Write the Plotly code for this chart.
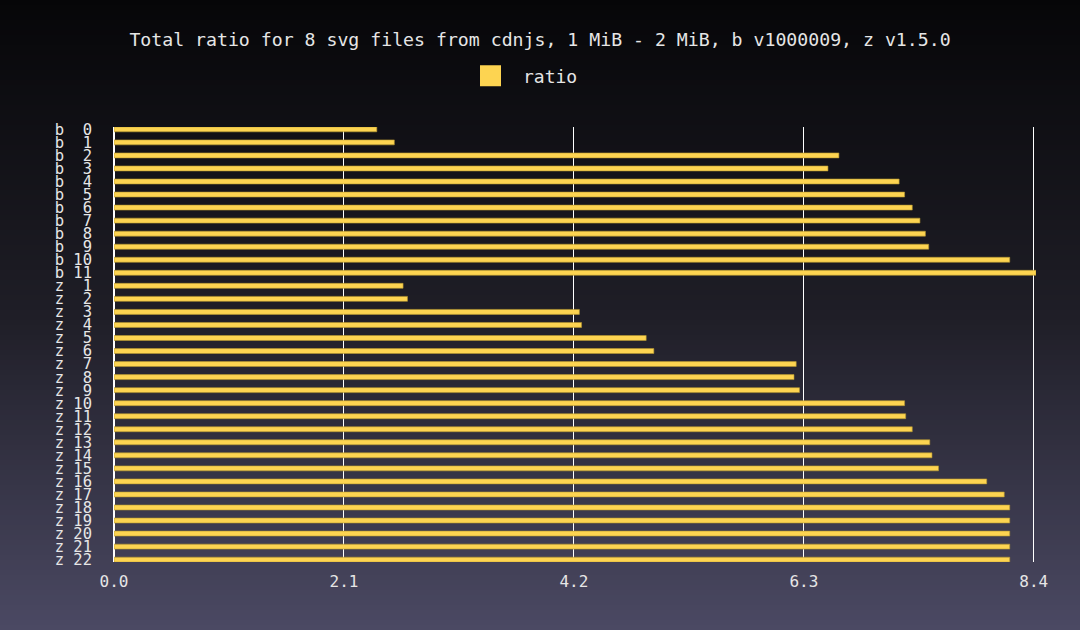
import plotly.graph_objects as go

# ---- data ----
categories = (["b %2d" % i for i in range(0, 12)] +
              ["z %2d" % i for i in range(1, 23)])
b_ratios = [2.40, 2.56, 6.62, 6.52, 7.17, 7.22, 7.29, 7.36, 7.41, 7.44, 8.18, 8.42]
z_ratios = [2.64, 2.68, 4.25, 4.27, 4.86, 4.93, 6.23, 6.21, 6.26, 7.22, 7.23,
            7.29, 7.45, 7.47, 7.53, 7.97, 8.13, 8.18, 8.18, 8.18, 8.18, 8.18]
ratios = b_ratios + z_ratios
x_ticks = [0.0, 2.1, 4.2, 6.3, 8.4]
x_tick_labels = ["0.0", "2.1", "4.2", "6.3", "8.4"]

TITLE = "Total ratio for 8 svg files from cdnjs, 1 MiB - 2 MiB, b v1000009, z v1.5.0"
FONT = "DejaVu Sans Mono"
TEXT = "#e6e6e6"
BAR = "#fdd451"

W, H = 1080, 630
ML, MR, MT, MB = 114, 44, 127, 68
PW, PH = W - ML - MR, H - MT - MB

fig = go.Figure()
fig.add_trace(go.Bar(
    x=ratios, y=categories, orientation="h", name="ratio",
    marker=dict(color=BAR, line=dict(color="#b39530", width=0.6)),
    width=0.38, showlegend=False, legendgroup="r",
))
# legend entry with a larger square symbol
fig.add_trace(go.Scatter(
    x=[None], y=[None], mode="markers", name="ratio", legendgroup="r",
    marker=dict(symbol="square", size=16, color=BAR, line=dict(color=BAR, width=5)),
    hoverinfo="skip",
))

# vertical gradient background built from stripes (style only)
top = (6, 6, 8)
mid = (31, 30, 39)
bot = (75, 73, 99)
shapes = []
n = 126
step = H / n
for i in range(n):
    t = (i + 0.5) / n
    if t < 0.5:
        a, b_, u = top, mid, t / 0.5
    else:
        a, b_, u = mid, bot, (t - 0.5) / 0.5
    c = tuple(round(a[k] + (b_[k] - a[k]) * u) for k in range(3))
    py0, py1 = i * step, (i + 1) * step + 0.6
    shapes.append(dict(
        type="rect", xref="paper", yref="paper", layer="below",
        x0=(0 - ML) / PW, x1=(W - ML) / PW,
        y0=(H - MB - py1) / PH, y1=(H - MB - py0) / PH,
        fillcolor="rgb(%d,%d,%d)" % c, line=dict(width=0),
    ))

fig.update_layout(
    width=W, height=H,
    margin=dict(l=ML, r=MR, t=MT, b=MB),
    paper_bgcolor="rgb(31,30,39)",
    plot_bgcolor="rgba(0,0,0,0)",
    font=dict(family=FONT, color=TEXT, size=15),
    title=dict(text=TITLE, x=0.5, xanchor="center", xref="container",
               y=1 - 40 / H, yanchor="middle", yref="container",
               font=dict(size=18.2, family=FONT, color=TEXT)),
    legend=dict(orientation="h", xref="container", yref="container",
                x=458 / W, xanchor="left", y=1 - 76 / H, yanchor="middle",
                bgcolor="rgba(0,0,0,0)", itemsizing="trace", itemwidth=55,
                font=dict(size=18, family=FONT, color=TEXT)),
    shapes=shapes,
    bargap=0.62,
    showlegend=True,
)
fig.update_xaxes(
    range=[0, 8.42], tickmode="array", tickvals=x_ticks, ticktext=x_tick_labels,
    showgrid=True, gridcolor="#ffffff", gridwidth=1,
    zeroline=True, zerolinecolor="#ffffff", zerolinewidth=1.5,
    showline=False, ticks="", ticklabelstandoff=8,
    tickfont=dict(size=16, color=TEXT),
)
fig.update_yaxes(
    type="category", categoryorder="array", categoryarray=categories,
    tickmode="array", tickvals=categories, ticktext=categories,
    range=[33.18, -0.18], showgrid=False, zeroline=False, showline=False,
    ticks="", ticklabelstandoff=21, tickfont=dict(size=15.5, color=TEXT),
)

fig.write_html("out.html")
